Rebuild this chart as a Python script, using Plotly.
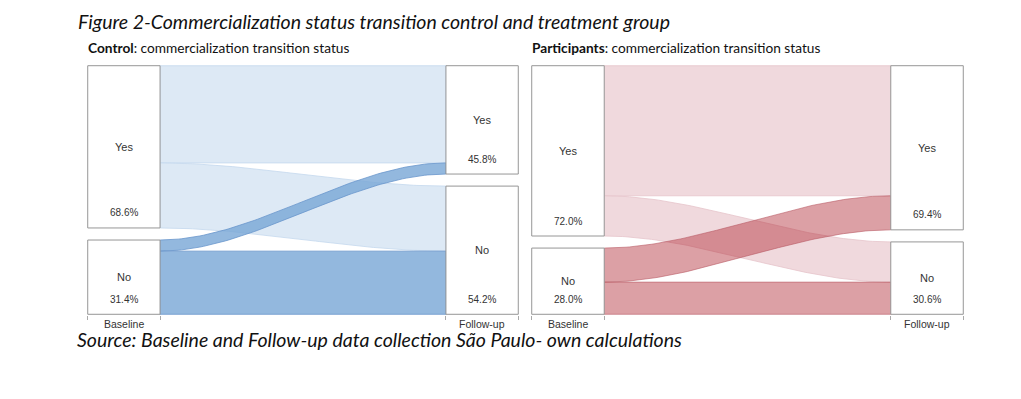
import numpy as np
import plotly.graph_objects as go

# ---------------- data ----------------
states = ["Yes", "No"]
stage_labels = ["Baseline", "Follow-up"]
panel_names = ["Control", "Participants"]
panel_subtitle = ": commercialization transition status"

flow_from = ["Yes", "Yes", "No", "No"]
flow_to = ["Yes", "No", "Yes", "No"]
control_flow_pct = [41.1, 27.5, 4.7, 26.7]
participant_flow_pct = [55.0, 17.0, 14.4, 13.6]

control_baseline_pct = [68.6, 31.4]
control_followup_pct = [45.8, 54.2]
participant_baseline_pct = [72.0, 28.0]
participant_followup_pct = [69.4, 30.6]

title_text = "Figure 2-Commercialization status transition control and treatment group"
source_text = "Source: Baseline and Follow-up data collection São Paulo- own calculations"

# ---------------- style ----------------
OFF = 8            # default page body margin
W, H = 1021 - OFF, 399 - OFF
GAP = 5.1          # gap between nodes, in % units
NW = 0.168         # node width as fraction of x range
LABEL_FONT = "Liberation Sans, Arial, sans-serif"
TEXT_FONT = "Lato, Open Sans, sans-serif"


def px(x):
    return (x - OFF) / W


def py(y):
    return 1 - (y - OFF) / H


panel_styles = [
    dict(light_fill="rgb(221,233,245)", light_line="rgb(196,216,237)",
         dark_fill="rgba(120,166,214,0.80)", dark_line="rgb(104,150,204)"),
    dict(light_fill="rgb(240,217,221)", light_line="rgb(230,196,202)",
         dark_fill="rgba(175,38,49,0.44)", dark_line="rgba(185,90,100,0.75)"),
]

panel_dom_x = [(px(86), px(520)), (px(530), px(965))]
dom_y = (py(315), py(65))

fig = go.Figure()


def node_spans(values):
    spans = {}
    y = 0.0
    for s, v in zip(states, values):
        spans[s] = (y, y + v)
        y += v + GAP
    return spans


panels = [
    (control_flow_pct, control_baseline_pct, control_followup_pct),
    (participant_flow_pct, participant_baseline_pct, participant_followup_pct),
]

annotations = []
t = np.linspace(0, 1, 80)
sm = 3 * t ** 2 - 2 * t ** 3
xs = NW + (1 - 2 * NW) * t

for p, (flows, base_pct, fu_pct) in enumerate(panels):
    xa = "x" if p == 0 else "x2"
    ya = "y" if p == 0 else "y2"
    st = panel_styles[p]

    # node sizes from flows
    base_sizes = [sum(v for f, v in zip(flow_from, flows) if f == s) for s in states]
    fu_sizes = [sum(v for g, v in zip(flow_to, flows) if g == s) for s in states]
    bspan = node_spans(base_sizes)
    fspan = node_spans(fu_sizes)

    # left offsets (ordered by target), right offsets (ordered by source)
    left_off = {s: bspan[s][0] for s in states}
    right_pos = {}
    for s in states:
        y = fspan[s][0]
        for src in states:
            for f, g, v in zip(flow_from, flow_to, flows):
                if f == src and g == s:
                    right_pos[(f, g)] = y
                    y += v

    flow_shapes = []
    for f, g, v in zip(flow_from, flow_to, flows):
        yl0 = left_off[f]
        left_off[f] += v
        yr0 = right_pos[(f, g)]
        top = yl0 + (yr0 - yl0) * sm
        bot = top + v
        flow_shapes.append((f, xs, top, bot))

    # light flows first, dark flows over them
    for want in ["Yes", "No"]:
        for f, x, top, bot in flow_shapes:
            if f != want:
                continue
            fill = st["light_fill"] if f == "Yes" else st["dark_fill"]
            line = st["light_line"] if f == "Yes" else st["dark_line"]
            fig.add_trace(go.Scatter(
                x=np.concatenate([x, x[::-1], x[:1]]),
                y=np.concatenate([top, bot[::-1], top[:1]]),
                fill="toself", fillcolor=fill, mode="lines",
                line=dict(color=line, width=0.8),
                hoverinfo="skip", showlegend=False, xaxis=xa, yaxis=ya))

    # nodes
    for col, (spans, pcts) in enumerate([(bspan, base_pct), (fspan, fu_pct)]):
        x0 = 0.0 if col == 0 else 1 - NW
        x1 = x0 + NW
        for s, pct in zip(states, pcts):
            y0, y1 = spans[s]
            fig.add_trace(go.Scatter(
                x=[x0, x1, x1, x0, x0], y=[y0, y0, y1, y1, y0],
                fill="toself", fillcolor="white", mode="lines",
                line=dict(color="rgb(150,150,150)", width=1),
                hoverinfo="skip", showlegend=False, xaxis=xa, yaxis=ya))
            annotations.append(dict(
                x=(x0 + x1) / 2, y=(y0 + y1) / 2, xref=xa, yref=ya,
                text=s, showarrow=False,
                font=dict(family=LABEL_FONT, size=11, color="#333333")))
            annotations.append(dict(
                x=(x0 + x1) / 2, y=y1, xref=xa, yref=ya, yshift=15,
                text=f"{pct:.1f}%", showarrow=False,
                font=dict(family=LABEL_FONT, size=10, color="#333333")))
        annotations.append(dict(
            x=(x0 + x1) / 2, y=0, xref=xa, yref=ya + " domain",
            yanchor="top", yshift=-1, text=stage_labels[col], showarrow=False,
            font=dict(family=LABEL_FONT, size=10.5, color="#333333")))

    # panel subtitle
    annotations.append(dict(
        x=panel_dom_x[p][0], y=py(48), xref="paper", yref="paper",
        xanchor="left", yanchor="middle", showarrow=False,
        text=f"<b>{panel_names[p]}</b>{panel_subtitle}",
        font=dict(family=TEXT_FONT, size=13.7, color="#111111")))

total = 100 + GAP
axis_common = dict(showgrid=False, zeroline=False, showline=False)
fig.update_layout(
    width=W, height=H,
    margin=dict(l=0, r=0, t=0, b=0),
    paper_bgcolor="white", plot_bgcolor="white",
    xaxis=dict(domain=list(panel_dom_x[0]), range=[-0.004, 1.004],
               tickvals=[0, NW, 1 - NW, 1], ticks="outside", ticklen=4,
               tickcolor="#aaaaaa", showticklabels=False, **axis_common),
    xaxis2=dict(domain=list(panel_dom_x[1]), range=[-0.004, 1.004],
                tickvals=[0, NW, 1 - NW, 1], ticks="outside", ticklen=4,
                tickcolor="#aaaaaa", showticklabels=False, anchor="y2",
                **axis_common),
    yaxis=dict(domain=list(dom_y), range=[total + 0.3, -0.3],
               showticklabels=False, **axis_common),
    yaxis2=dict(domain=list(dom_y), range=[total + 0.3, -0.3],
                showticklabels=False, anchor="x2", **axis_common),
)

annotations.append(dict(
    x=px(76), y=py(22), xref="paper", yref="paper", xanchor="left",
    yanchor="middle", showarrow=False, text=f"<i>{title_text}</i>",
    font=dict(family=TEXT_FONT, size=19.5, color="#111111")))
annotations.append(dict(
    x=px(75), y=py(339), xref="paper", yref="paper", xanchor="left",
    yanchor="middle", showarrow=False, text=f"<i>{source_text}</i>",
    font=dict(family=TEXT_FONT, size=19.5, color="#111111")))

fig.update_layout(annotations=annotations)
fig.write_html("out.html")
